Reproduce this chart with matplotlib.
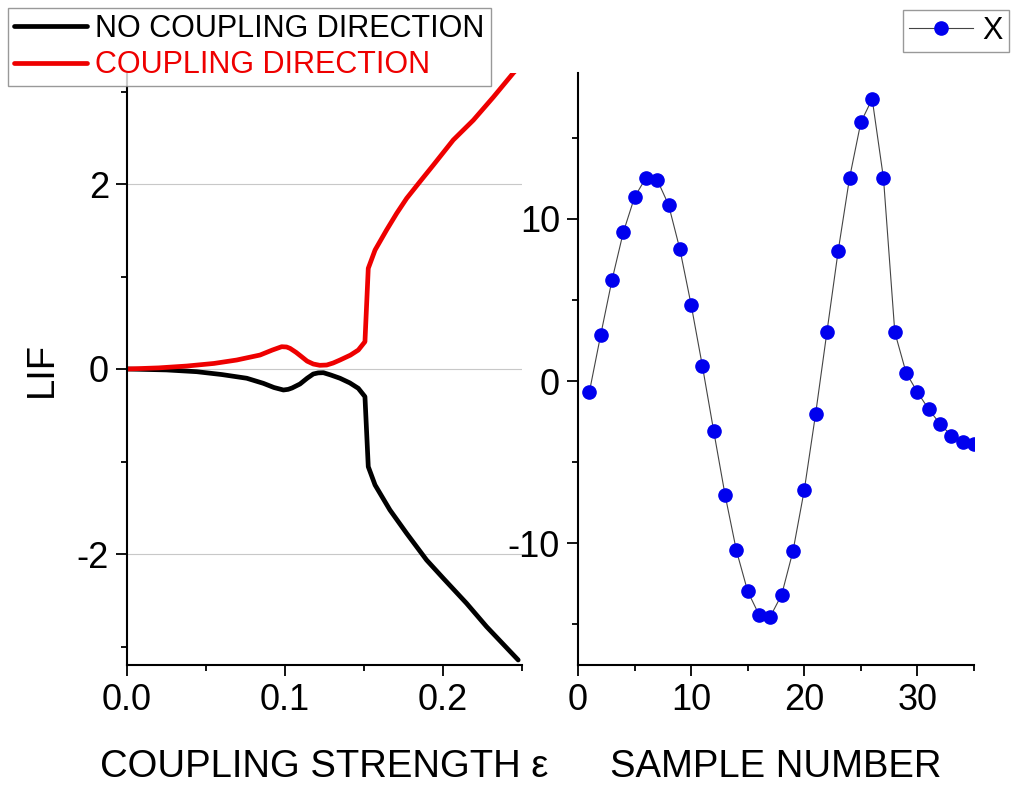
import matplotlib
matplotlib.use("Agg")
import matplotlib.pyplot as plt
from matplotlib.ticker import MultipleLocator

plt.rcParams["font.family"] = ["Liberation Sans", "DejaVu Sans"]
plt.rcParams["axes.unicode_minus"] = False

# 左图：LIF 随耦合强度变化
eps_red = [0.0, 0.02, 0.0378, 0.055, 0.0694, 0.0842, 0.092, 0.0979, 0.101, 0.1032,
           0.107, 0.1105, 0.114, 0.1179, 0.122, 0.1264, 0.1305, 0.1348, 0.1414,
           0.1464, 0.1506, 0.1527, 0.157, 0.1643, 0.1707, 0.177, 0.1854, 0.1939,
           0.2065, 0.2192, 0.2319, 0.2445, 0.25]
lif_red = [0.0, 0.012, 0.032, 0.06, 0.097, 0.151, 0.205, 0.241, 0.238, 0.223,
           0.18, 0.133, 0.085, 0.054, 0.04, 0.043, 0.065, 0.097, 0.15,
           0.205, 0.295, 1.088, 1.286, 1.503, 1.683, 1.845, 2.025, 2.205,
           2.476, 2.69, 2.94, 3.2, 3.3]

eps_black = [0.0, 0.025, 0.0441, 0.06, 0.0758, 0.0863, 0.093, 0.099, 0.102, 0.1045,
             0.1095, 0.114, 0.1179, 0.121, 0.1243, 0.129, 0.1348, 0.141, 0.1464,
             0.1506, 0.1527, 0.157, 0.1664, 0.177, 0.1896, 0.2002, 0.2149, 0.2276,
             0.2476]
lif_black = [0.0, -0.01, -0.029, -0.06, -0.10, -0.155, -0.2, -0.227, -0.22, -0.205,
             -0.162, -0.1, -0.054, -0.042, -0.04, -0.065, -0.10, -0.15, -0.209,
             -0.299, -1.056, -1.254, -1.524, -1.777, -2.065, -2.263, -2.533, -2.786,
             -3.146]

# 右图：样本序列 X
sample_n = list(range(1, 36))
sample_x = [-0.68, 2.83, 6.22, 9.17, 11.35, 12.53, 12.41, 10.88, 8.15, 4.71,
            0.91, -3.10, -7.02, -10.44, -12.96, -14.40, -14.51, -13.17, -10.48,
            -6.71, -2.02, 3.03, 8.05, 12.53, 15.96, 17.4, 12.51, 3.02, 0.52,
            -0.68, -1.73, -2.64, -3.36, -3.77, -3.86]

FS_TICK = 26
FS_LABEL = 27.5
FS_LEG = 22
W, H = 1012, 785
fig = plt.figure(figsize=(W / 100, H / 100), dpi=100)

ax1 = fig.add_axes([127 / W, 1 - 665 / H, 395 / W, 592 / H])
ax2 = fig.add_axes([578 / W, 1 - 665 / H, 396 / W, 592 / H])


def style_axes(ax):
    for side in ("top", "right"):
        ax.spines[side].set_visible(False)
    for side in ("left", "bottom"):
        ax.spines[side].set_linewidth(1.5)
    ax.tick_params(which="major", direction="out", length=8, width=1.3,
                   labelsize=FS_TICK, pad=5)
    ax.tick_params(which="minor", direction="out", length=4.5, width=1.3)


# 左图
l1, = ax1.plot(eps_black, lif_black, color="black", lw=3.4,
               solid_capstyle="round", solid_joinstyle="round")
l2, = ax1.plot(eps_red, lif_red, color="#ee0000", lw=3.4,
               solid_capstyle="round", solid_joinstyle="round")
ax1.set_xlim(0, 0.25)
ax1.set_ylim(-3.2, 3.2)
ax1.xaxis.set_major_locator(MultipleLocator(0.1))
ax1.xaxis.set_minor_locator(MultipleLocator(0.05))
ax1.yaxis.set_major_locator(MultipleLocator(2))
ax1.yaxis.set_minor_locator(MultipleLocator(1))
ax1.xaxis.set_major_formatter(plt.FormatStrFormatter("%.1f"))
ax1.grid(axis="y", which="major", color="#c8c8c8", lw=0.8)
ax1.set_axisbelow(True)
style_axes(ax1)
ax1.set_ylabel("LIF", fontsize=FS_LABEL, labelpad=12)
ax1.set_xlabel("COUPLING STRENGTH ε", fontsize=FS_LABEL, labelpad=22)

leg1 = fig.legend([l1, l2], ["NO COUPLING DIRECTION", "COUPLING DIRECTION"],
                  loc="upper left", bbox_to_anchor=(8 / W, 1 - 8 / H),
                  fontsize=FS_LEG, frameon=True, fancybox=False, handlelength=2.4,
                  handletextpad=0.25, borderpad=0.2, labelspacing=0.2,
                  borderaxespad=0)
leg1.get_frame().set_edgecolor("#808080")
leg1.get_frame().set_linewidth(1.0)
leg1.get_texts()[1].set_color("#ee0000")

# 右图
l3, = ax2.plot(sample_n, sample_x, color="#444444", lw=0.8, marker="o",
               markersize=9.5, markerfacecolor="#0000ee", markeredgecolor="#0000ee")
ax2.set_xlim(0, 35)
ax2.set_ylim(-17.5, 19.0)
ax2.xaxis.set_major_locator(MultipleLocator(10))
ax2.xaxis.set_minor_locator(MultipleLocator(5))
ax2.yaxis.set_major_locator(MultipleLocator(10))
ax2.yaxis.set_minor_locator(MultipleLocator(5))
style_axes(ax2)
ax2.set_xlabel("SAMPLE NUMBER", fontsize=FS_LABEL, labelpad=22)

leg2 = fig.legend([l3], ["X"], loc="upper right", bbox_to_anchor=(1009 / W, 1 - 10 / H),
                  fontsize=FS_LEG, frameon=True, fancybox=False, handlelength=2.1,
                  handletextpad=0.3, borderpad=0.2, borderaxespad=0)
leg2.get_frame().set_edgecolor("#808080")
leg2.get_frame().set_linewidth(1.0)

fig.savefig("out.png", dpi=100)
